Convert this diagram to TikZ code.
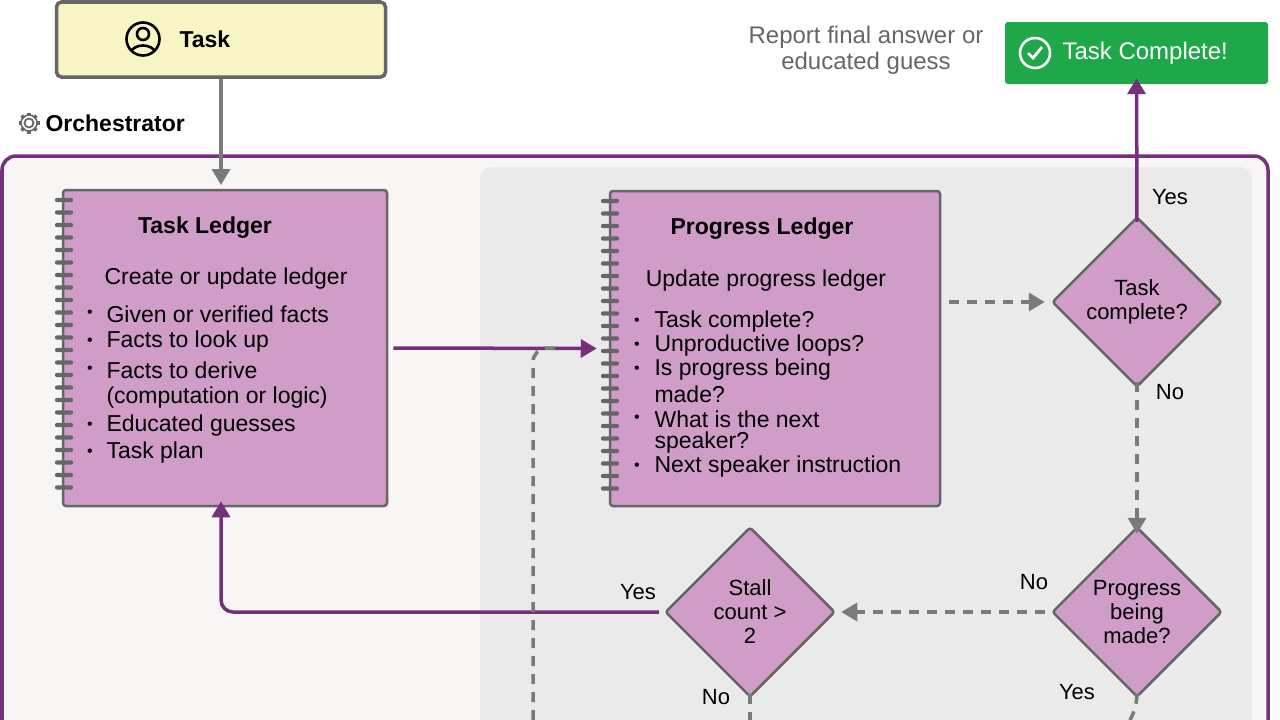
\documentclass[tikz,border=0pt]{standalone}
\usepackage{fontspec}
\setmainfont{Liberation Sans}
\usetikzlibrary{shapes.geometric,arrows.meta}
\definecolor{purp}{HTML}{76307A}
\definecolor{lilac}{HTML}{D09CC8}
\definecolor{edge}{HTML}{666666}
\definecolor{arr}{HTML}{7A7A7A}
\definecolor{green}{HTML}{1FA84A}
\definecolor{outerbg}{HTML}{F7F6F5}
\definecolor{innerbg}{HTML}{EAEAEA}
\definecolor{taskbg}{HTML}{F7F5C4}
\definecolor{repgray}{HTML}{666666}
\tikzset{
  ledger/.style={draw=edge,line width=2.5pt,fill=lilac,rounded corners=3pt},
  dia/.style={diamond,draw=edge,line width=2.5pt,fill=lilac,minimum width=170pt,minimum height=170pt,inner sep=0pt,align=center,font=\fontsize{22}{24}\selectfont,rounded corners=3pt},
  txt/.style={font=\fontsize{23}{25}\selectfont,anchor=west},
  lbl/.style={font=\fontsize{22}{24}\selectfont},
  tip/.style={-{Triangle[length=16pt,width=18pt]}},
  garr/.style={draw=arr,line width=3.5pt,tip},
  darr/.style={draw=arr,line width=3.5pt,dash pattern=on 10pt off 8pt,tip},
  dline/.style={draw=arr,line width=3.5pt,dash pattern=on 10pt off 8pt},
  parr/.style={draw=purp,line width=3.5pt,tip},
}
\begin{document}
\begin{tikzpicture}[x=1pt,y=-1pt]
\useasboundingbox (0,0) rectangle (1280,720);
\fill[white] (0,0) rectangle (1280,720);
% frames
\begin{scope}
\clip (0,0) rectangle (1280,720);
\draw[purp,line width=3.5pt,fill=outerbg,rounded corners=14pt] (2,156) rectangle (1268,760);
\fill[innerbg,rounded corners=12pt] (480,167) rectangle (1252,760);
\end{scope}
% Task box
\node[draw=edge,line width=3.5pt,fill=taskbg,rounded corners=5pt,minimum width=329pt,minimum height=75pt] (task) at (221,39.5) {};
\draw[black,line width=2.6pt] (143,39) circle (16.5);
\draw[black,line width=2.6pt] (143,34) circle (6);
\begin{scope}
\clip (143,39) circle (16.5);
\draw[black,line width=2.6pt] (130,53) .. controls (134,43) and (152,43) .. (156,53);
\end{scope}
\node[font=\bfseries\fontsize{23}{25}\selectfont,anchor=west] (tasktxt) at (176,39) {Task};
% Orchestrator
\draw[edge,line width=1.8pt] (29,123) circle (4.5);
\foreach \a in {0,45,...,315}{\draw[edge,line width=3.5pt] (29,123) ++(\a:7) -- ++(\a:3.5);}
\draw[edge,line width=1.5pt] (29,123) circle (8);
\node[font=\bfseries\fontsize{23}{25}\selectfont,anchor=west] (orch) at (42,123) {Orchestrator};
% Task ledger
\node[ledger,minimum width=324pt,minimum height=316pt] (tl) at (225,348) {};
\foreach \y in {200,212.5,...,490}{\fill[edge,rounded corners=2pt] (55,\y-2.2) rectangle (73,\y+2.2);}
\node[font=\bfseries\fontsize{23}{25}\selectfont] (tlt) at (205,228) {Task Ledger};
\node[font=\fontsize{23}{25}\selectfont] (tls) at (226,279) {Create or update ledger};
\foreach \y/\t in {314/Given or verified facts,342/Facts to look up,370/Facts to derive,426/Educated guesses,453/Task plan}{
  \node[font=\fontsize{16}{18}\selectfont] at (90,\y) {•};
  \node[txt] at (103,\y) {\t};}
\node[txt] (tlc) at (103,398) {(computation or logic)};
% Progress ledger
\node[ledger,minimum width=330pt,minimum height=315pt] (pl) at (775,348.5) {};
\foreach \y in {201,213.5,...,491}{\fill[edge,rounded corners=2pt] (601,\y-2.2) rectangle (619,\y+2.2);}
\node[font=\bfseries\fontsize{23}{25}\selectfont] (plt) at (762,229) {Progress Ledger};
\node[font=\fontsize{23}{25}\selectfont] (pls) at (766,281) {Update progress ledger};
\foreach \y/\t in {322/Task complete?,346/Unproductive loops?,370/Is progress being,419/What is the next,467/Next speaker instruction}{
  \node[font=\fontsize{16}{18}\selectfont] at (637,\y) {•};
  \node[txt] at (651,\y) {\t};}
\node[txt] at (651,394) {made?};
\node[txt] at (651,443) {speaker?};
% diamonds
\node[dia] (tc) at (1137,302) {Task\\complete?};
\node[dia] (pm) at (1137,612) {Progress\\being\\made?};
\node[dia] (sc) at (750,612) {Stall\\count >\\2};
% complete button
\node[fill=green,rounded corners=3pt,minimum width=263pt,minimum height=62pt] (done) at (1136.5,53) {};
\draw[white,line width=2.6pt] (1035,53) circle (15);
\draw[white,line width=2.8pt] (1028,53) -- (1033,58) -- (1042,47);
\node[font=\fontsize{24}{26}\selectfont,text=white,anchor=west] (donet) at (1059,53) {Task Complete!};
\node[font=\fontsize{24}{26}\selectfont,text=repgray,align=center] (rep) at (866,50) {Report final answer or\\educated guess};
% coordinates
\coordinate (scb) at (750,720);
\coordinate (pmb) at (1130,720);
\coordinate (lb) at (533,720);
\coordinate (corner1) at (221,612);
% connectors
\draw[garr] (task.south) -- (221,185);
\draw[parr] ([xshift=5pt]tl.east) -- ([xshift=-12pt]pl.west);
\draw[darr] ([xshift=8pt]pl.east |- tc.west) -- ([xshift=-6pt]tc.west);
\draw[parr] ([yshift=-6pt]tc.north) -- ([yshift=6pt]done.south);
\draw[darr] ([yshift=6pt]tc.south) -- ([yshift=-8pt]pm.north);
\draw[darr] ([xshift=-6pt]pm.west) -- ([xshift=5pt]sc.east);
\draw[parr,rounded corners=12pt] ([xshift=-5pt]sc.west) -- (corner1) -- ([yshift=6pt]tl.south -| corner1);
\draw[dline] ([yshift=4pt]sc.south) -- (scb);
\draw[dline,rounded corners=12pt] ([yshift=4pt]pm.south) -- (1137,706) -- (pmb);
\draw[dline,rounded corners=14pt] (lb) -- (533,348) -- (560,348);
% labels
\node[lbl] at (1170,197) {Yes};
\node[lbl] at (1170,392) {No};
\node[lbl] at (1034,582) {No};
\node[lbl] at (1077,692) {Yes};
\node[lbl] at (638,592) {Yes};
\node[lbl] at (716,697) {No};
\end{tikzpicture}
\end{document}
